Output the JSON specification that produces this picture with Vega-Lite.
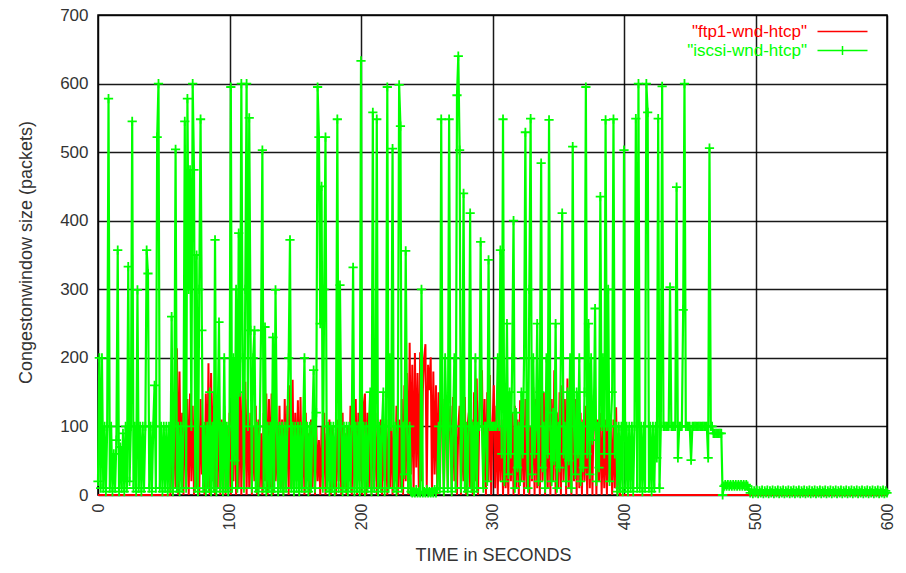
{
"$schema": "https://vega.github.io/schema/vega-lite/v6.json",
"width": 789, "height": 480,
"autosize": "none",
"padding": {"left": 98, "top": 15, "right": 19, "bottom": 78},
"background": "white",
"datasets": {
"ftp": [
{"t":0,"w":0},{"t":54,"w":0},{"t":55,"w":0},{"t":56,"w":120},{"t":57,"w":0},{"t":58,"w":150},{"t":59,"w":10},
{"t":60,"w":214},{"t":61,"w":0},{"t":62,"w":180},{"t":63,"w":20},{"t":64,"w":120},{"t":65,"w":0},{"t":66,"w":168},{"t":67,"w":10},{"t":68,"w":140},{"t":69,"w":0},
{"t":70,"w":148},{"t":71,"w":20},{"t":72,"w":130},{"t":73,"w":0},{"t":74,"w":148},{"t":75,"w":10},{"t":76,"w":120},{"t":77,"w":0},{"t":78,"w":140},{"t":79,"w":30},
{"t":80,"w":100},{"t":81,"w":0},{"t":82,"w":148},{"t":83,"w":10},{"t":84,"w":192},{"t":85,"w":0},{"t":86,"w":178},{"t":87,"w":20},{"t":88,"w":150},{"t":89,"w":0},
{"t":90,"w":120},{"t":91,"w":10},{"t":92,"w":140},{"t":93,"w":0},{"t":94,"w":110},{"t":95,"w":20},{"t":96,"w":130},{"t":97,"w":0},{"t":98,"w":100},{"t":99,"w":10},
{"t":100,"w":120},{"t":101,"w":0},{"t":102,"w":150},{"t":103,"w":20},{"t":104,"w":182},{"t":105,"w":0},{"t":106,"w":160},{"t":107,"w":10},{"t":108,"w":170},{"t":109,"w":0},
{"t":110,"w":150},{"t":111,"w":20},{"t":112,"w":165},{"t":113,"w":0},{"t":114,"w":140},{"t":115,"w":10},{"t":116,"w":120},{"t":117,"w":0},{"t":118,"w":100},{"t":119,"w":20},
{"t":120,"w":130},{"t":121,"w":0},{"t":122,"w":110},{"t":123,"w":10},{"t":124,"w":90},{"t":125,"w":0},{"t":126,"w":120},{"t":127,"w":20},{"t":128,"w":148},{"t":129,"w":0},
{"t":130,"w":140},{"t":131,"w":10},{"t":132,"w":148},{"t":133,"w":0},{"t":134,"w":120},{"t":135,"w":20},{"t":136,"w":100},{"t":137,"w":0},{"t":138,"w":130},{"t":139,"w":10},
{"t":140,"w":110},{"t":141,"w":0},{"t":142,"w":140},{"t":143,"w":20},{"t":144,"w":130},{"t":145,"w":0},{"t":146,"w":160},{"t":147,"w":10},{"t":148,"w":168},{"t":149,"w":0},
{"t":150,"w":120},{"t":151,"w":20},{"t":152,"w":138},{"t":153,"w":0},{"t":154,"w":143},{"t":155,"w":10},{"t":156,"w":100},{"t":157,"w":0},{"t":158,"w":120},{"t":159,"w":20},
{"t":160,"w":90},{"t":161,"w":0},{"t":162,"w":110},{"t":163,"w":10},{"t":164,"w":130},{"t":165,"w":0},{"t":166,"w":100},{"t":167,"w":20},{"t":168,"w":80},{"t":169,"w":0},
{"t":170,"w":100},{"t":171,"w":10},{"t":172,"w":120},{"t":173,"w":0},{"t":174,"w":90},{"t":175,"w":20},{"t":176,"w":110},{"t":177,"w":0},{"t":178,"w":100},{"t":179,"w":10},
{"t":180,"w":80},{"t":181,"w":0},{"t":182,"w":110},{"t":183,"w":20},{"t":184,"w":100},{"t":185,"w":0},{"t":186,"w":120},{"t":187,"w":10},{"t":188,"w":90},{"t":189,"w":0},
{"t":190,"w":100},{"t":191,"w":20},{"t":192,"w":130},{"t":193,"w":0},{"t":194,"w":110},{"t":195,"w":10},{"t":196,"w":140},{"t":197,"w":0},{"t":198,"w":120},{"t":199,"w":20},
{"t":200,"w":148},{"t":201,"w":0},{"t":202,"w":130},{"t":203,"w":148},{"t":204,"w":0},{"t":205,"w":120},{"t":206,"w":10},{"t":207,"w":110},{"t":208,"w":0},{"t":209,"w":138},
{"t":210,"w":20},{"t":211,"w":120},{"t":212,"w":0},{"t":213,"w":100},{"t":214,"w":10},{"t":215,"w":110},{"t":216,"w":0},{"t":217,"w":90},{"t":218,"w":20},{"t":219,"w":100},
{"t":220,"w":0},{"t":221,"w":110},{"t":222,"w":10},{"t":223,"w":120},{"t":224,"w":0},{"t":225,"w":100},{"t":226,"w":20},{"t":227,"w":130},{"t":228,"w":0},{"t":229,"w":110},
{"t":230,"w":10},{"t":231,"w":140},{"t":232,"w":0},{"t":233,"w":160},{"t":234,"w":20},{"t":235,"w":178},{"t":236,"w":0},{"t":237,"w":222},{"t":238,"w":30},{"t":239,"w":190},
{"t":240,"w":0},{"t":241,"w":207},{"t":242,"w":40},{"t":243,"w":178},{"t":244,"w":0},{"t":245,"w":208},{"t":246,"w":20},{"t":247,"w":150},{"t":248,"w":200},{"t":249,"w":220},
{"t":250,"w":10},{"t":251,"w":190},{"t":252,"w":153},{"t":253,"w":201},{"t":254,"w":0},{"t":255,"w":180},{"t":256,"w":30},{"t":257,"w":160},{"t":258,"w":0},{"t":259,"w":150},
{"t":260,"w":20},{"t":261,"w":120},{"t":262,"w":140},{"t":263,"w":0},{"t":264,"w":100},{"t":265,"w":143},{"t":266,"w":10},{"t":267,"w":110},{"t":268,"w":130},{"t":269,"w":0},
{"t":270,"w":143},{"t":271,"w":20},{"t":272,"w":120},{"t":273,"w":0},{"t":274,"w":100},{"t":275,"w":130},{"t":276,"w":0},{"t":277,"w":110},{"t":278,"w":20},{"t":279,"w":143},
{"t":280,"w":0},{"t":281,"w":100},{"t":282,"w":120},{"t":283,"w":10},{"t":284,"w":110},{"t":285,"w":0},{"t":286,"w":150},{"t":287,"w":20},{"t":288,"w":170},{"t":289,"w":0},
{"t":290,"w":120},{"t":291,"w":160},{"t":292,"w":182},{"t":293,"w":10},{"t":294,"w":140},{"t":295,"w":0},{"t":296,"w":150},{"t":297,"w":20},{"t":298,"w":175},{"t":299,"w":0},
{"t":300,"w":100},{"t":301,"w":160},{"t":302,"w":10},{"t":303,"w":130},{"t":304,"w":0},{"t":305,"w":114},{"t":306,"w":20},{"t":307,"w":110},{"t":308,"w":0},{"t":309,"w":114},
{"t":310,"w":10},{"t":311,"w":100},{"t":312,"w":0},{"t":313,"w":110},{"t":314,"w":20},{"t":315,"w":120},{"t":316,"w":0},{"t":317,"w":130},{"t":318,"w":10},{"t":319,"w":110},
{"t":320,"w":0},{"t":321,"w":138},{"t":322,"w":20},{"t":323,"w":120},{"t":324,"w":0},{"t":325,"w":140},{"t":326,"w":10},{"t":327,"w":150},{"t":328,"w":0},{"t":329,"w":100},
{"t":330,"w":20},{"t":331,"w":157},{"t":332,"w":0},{"t":333,"w":140},{"t":334,"w":10},{"t":335,"w":120},{"t":336,"w":0},{"t":337,"w":168},{"t":338,"w":20},{"t":339,"w":150},
{"t":340,"w":0},{"t":341,"w":130},{"t":342,"w":10},{"t":343,"w":160},{"t":344,"w":0},{"t":345,"w":140},{"t":346,"w":20},{"t":347,"w":182},{"t":348,"w":0},{"t":349,"w":120},
{"t":350,"w":10},{"t":351,"w":150},{"t":352,"w":0},{"t":353,"w":160},{"t":354,"w":20},{"t":355,"w":140},{"t":356,"w":0},{"t":357,"w":170},{"t":358,"w":10},{"t":359,"w":130},
{"t":360,"w":0},{"t":361,"w":182},{"t":362,"w":20},{"t":363,"w":140},{"t":364,"w":0},{"t":365,"w":150},{"t":366,"w":10},{"t":367,"w":120},{"t":368,"w":0},{"t":369,"w":110},
{"t":370,"w":20},{"t":371,"w":130},{"t":372,"w":0},{"t":373,"w":140},{"t":374,"w":10},{"t":375,"w":120},{"t":376,"w":0},{"t":377,"w":145},{"t":378,"w":157},{"t":379,"w":0},
{"t":380,"w":110},{"t":381,"w":20},{"t":382,"w":120},{"t":383,"w":0},{"t":384,"w":100},{"t":385,"w":10},{"t":386,"w":110},{"t":387,"w":0},{"t":388,"w":130},{"t":389,"w":20},
{"t":390,"w":100},{"t":391,"w":0},{"t":392,"w":110},{"t":393,"w":10},{"t":394,"w":128},{"t":395,"w":0},{"t":396,"w":90},{"t":397,"w":0},{"t":600,"w":0}
],
"iscsi": [
{"t":0,"w":20},{"t":1,"w":200},{"t":2,"w":10},{"t":3,"w":200},{"t":4,"w":10},{"t":5,"w":100},{"t":6,"w":5},{"t":7,"w":100},{"t":8,"w":578},{"t":9,"w":10},
{"t":10,"w":100},{"t":11,"w":5},{"t":12,"w":60},{"t":13,"w":10},{"t":14,"w":80},{"t":15,"w":357},{"t":16,"w":5},{"t":17,"w":70},{"t":18,"w":10},{"t":19,"w":90},
{"t":20,"w":5},{"t":21,"w":100},{"t":22,"w":10},{"t":23,"w":333},{"t":24,"w":20},{"t":25,"w":100},{"t":26,"w":545},{"t":27,"w":10},{"t":28,"w":100},{"t":29,"w":5},
{"t":30,"w":299},{"t":31,"w":10},{"t":32,"w":100},{"t":33,"w":5},{"t":34,"w":100},{"t":35,"w":10},{"t":36,"w":100},{"t":37,"w":357},{"t":38,"w":323},{"t":39,"w":10},
{"t":40,"w":100},{"t":41,"w":5},{"t":42,"w":100},{"t":43,"w":160},{"t":44,"w":10},{"t":45,"w":522},{"t":46,"w":600},{"t":47,"w":10},{"t":48,"w":100},{"t":49,"w":5},
{"t":50,"w":100},{"t":51,"w":10},{"t":52,"w":100},{"t":53,"w":5},{"t":54,"w":100},{"t":55,"w":10},{"t":56,"w":260},{"t":57,"w":5},{"t":58,"w":100},{"t":59,"w":504},
{"t":60,"w":10},{"t":61,"w":100},{"t":62,"w":5},{"t":63,"w":100},{"t":64,"w":10},{"t":65,"w":100},{"t":66,"w":545},{"t":67,"w":10},{"t":68,"w":578},{"t":69,"w":300},
{"t":70,"w":474},{"t":71,"w":100},{"t":72,"w":600},{"t":73,"w":474},{"t":74,"w":10},{"t":75,"w":350},{"t":76,"w":5},{"t":77,"w":300},{"t":78,"w":548},{"t":79,"w":240},
{"t":80,"w":10},{"t":81,"w":100},{"t":82,"w":5},{"t":83,"w":100},{"t":84,"w":10},{"t":85,"w":150},{"t":86,"w":5},{"t":87,"w":100},{"t":88,"w":10},{"t":89,"w":372},
{"t":90,"w":5},{"t":91,"w":100},{"t":92,"w":252},{"t":93,"w":10},{"t":94,"w":100},{"t":95,"w":5},{"t":96,"w":200},{"t":97,"w":10},{"t":98,"w":100},{"t":99,"w":5},
{"t":100,"w":100},{"t":101,"w":595},{"t":102,"w":10},{"t":103,"w":200},{"t":104,"w":50},{"t":105,"w":300},{"t":106,"w":10},{"t":107,"w":382},{"t":108,"w":150},{"t":109,"w":600},
{"t":110,"w":200},{"t":111,"w":10},{"t":112,"w":300},{"t":113,"w":600},{"t":114,"w":100},{"t":115,"w":550},{"t":116,"w":240},{"t":117,"w":10},{"t":118,"w":200},{"t":119,"w":240},
{"t":120,"w":10},{"t":121,"w":100},{"t":122,"w":5},{"t":123,"w":100},{"t":124,"w":240},{"t":125,"w":503},{"t":126,"w":10},{"t":127,"w":245},{"t":128,"w":5},{"t":129,"w":100},
{"t":130,"w":10},{"t":131,"w":100},{"t":132,"w":5},{"t":133,"w":230},{"t":134,"w":10},{"t":135,"w":299},{"t":136,"w":100},{"t":137,"w":5},{"t":138,"w":100},{"t":139,"w":10},
{"t":140,"w":100},{"t":141,"w":5},{"t":142,"w":100},{"t":143,"w":10},{"t":144,"w":100},{"t":145,"w":200},{"t":146,"w":372},{"t":147,"w":10},{"t":148,"w":100},{"t":149,"w":5},
{"t":150,"w":100},{"t":151,"w":10},{"t":152,"w":100},{"t":153,"w":5},{"t":154,"w":100},{"t":155,"w":10},{"t":156,"w":100},{"t":157,"w":200},{"t":158,"w":10},{"t":159,"w":100},
{"t":160,"w":5},{"t":161,"w":100},{"t":162,"w":10},{"t":163,"w":100},{"t":164,"w":182},{"t":165,"w":10},{"t":166,"w":120},{"t":167,"w":595},{"t":168,"w":522},{"t":169,"w":250},
{"t":170,"w":450},{"t":171,"w":10},{"t":172,"w":300},{"t":173,"w":522},{"t":174,"w":10},{"t":175,"w":100},{"t":176,"w":5},{"t":177,"w":100},{"t":178,"w":10},{"t":179,"w":100},
{"t":180,"w":5},{"t":181,"w":100},{"t":182,"w":548},{"t":183,"w":10},{"t":184,"w":306},{"t":185,"w":100},{"t":186,"w":5},{"t":187,"w":100},{"t":188,"w":10},{"t":189,"w":100},
{"t":190,"w":5},{"t":191,"w":100},{"t":192,"w":10},{"t":193,"w":100},{"t":194,"w":332},{"t":195,"w":5},{"t":196,"w":100},{"t":197,"w":10},{"t":198,"w":100},{"t":199,"w":5},
{"t":200,"w":633},{"t":201,"w":10},{"t":202,"w":100},{"t":203,"w":5},{"t":204,"w":100},{"t":205,"w":10},{"t":206,"w":100},{"t":207,"w":150},{"t":208,"w":5},{"t":209,"w":558},
{"t":210,"w":10},{"t":211,"w":100},{"t":212,"w":548},{"t":213,"w":5},{"t":214,"w":100},{"t":215,"w":10},{"t":216,"w":100},{"t":217,"w":150},{"t":218,"w":5},{"t":219,"w":100},
{"t":220,"w":595},{"t":221,"w":10},{"t":222,"w":200},{"t":223,"w":100},{"t":224,"w":505},{"t":225,"w":10},{"t":226,"w":100},{"t":227,"w":5},{"t":228,"w":100},{"t":229,"w":598},
{"t":230,"w":538},{"t":231,"w":10},{"t":232,"w":100},{"t":233,"w":30},{"t":234,"w":356},{"t":235,"w":100},{"t":236,"w":10},{"t":237,"w":100},{"t":238,"w":5},{"t":239,"w":3},
{"t":240,"w":5},{"t":241,"w":3},{"t":242,"w":8},{"t":243,"w":3},{"t":244,"w":5},{"t":245,"w":3},{"t":246,"w":300},{"t":247,"w":3},{"t":248,"w":5},{"t":249,"w":3},
{"t":250,"w":8},{"t":251,"w":3},{"t":252,"w":5},{"t":253,"w":3},{"t":254,"w":5},{"t":255,"w":3},{"t":256,"w":8},{"t":257,"w":3},{"t":258,"w":10},{"t":259,"w":100},
{"t":260,"w":10},{"t":261,"w":548},{"t":262,"w":100},{"t":263,"w":5},{"t":264,"w":200},{"t":265,"w":100},{"t":266,"w":10},{"t":267,"w":548},{"t":268,"w":100},{"t":269,"w":5},
{"t":270,"w":100},{"t":271,"w":200},{"t":272,"w":10},{"t":273,"w":583},{"t":274,"w":640},{"t":275,"w":503},{"t":276,"w":10},{"t":277,"w":100},{"t":278,"w":440},{"t":279,"w":10},
{"t":280,"w":100},{"t":281,"w":5},{"t":282,"w":100},{"t":283,"w":411},{"t":284,"w":10},{"t":285,"w":100},{"t":286,"w":5},{"t":287,"w":200},{"t":288,"w":10},{"t":289,"w":100},
{"t":290,"w":100},{"t":291,"w":369},{"t":292,"w":100},{"t":293,"w":10},{"t":294,"w":100},{"t":295,"w":100},{"t":296,"w":20},{"t":297,"w":343},{"t":298,"w":100},{"t":299,"w":100},
{"t":300,"w":100},{"t":301,"w":100},{"t":302,"w":100},{"t":303,"w":100},{"t":304,"w":200},{"t":305,"w":100},{"t":306,"w":357},{"t":307,"w":60},{"t":308,"w":548},{"t":309,"w":20},
{"t":310,"w":100},{"t":311,"w":250},{"t":312,"w":30},{"t":313,"w":150},{"t":314,"w":60},{"t":315,"w":200},{"t":316,"w":400},{"t":317,"w":10},{"t":318,"w":120},{"t":319,"w":40},
{"t":320,"w":100},{"t":321,"w":20},{"t":322,"w":150},{"t":323,"w":60},{"t":324,"w":200},{"t":325,"w":529},{"t":326,"w":100},{"t":327,"w":10},{"t":328,"w":300},{"t":329,"w":549},
{"t":330,"w":30},{"t":331,"w":200},{"t":332,"w":60},{"t":333,"w":100},{"t":334,"w":250},{"t":335,"w":20},{"t":336,"w":150},{"t":337,"w":484},{"t":338,"w":40},{"t":339,"w":100},
{"t":340,"w":10},{"t":341,"w":200},{"t":342,"w":60},{"t":343,"w":547},{"t":344,"w":100},{"t":345,"w":20},{"t":346,"w":120},{"t":347,"w":50},{"t":348,"w":250},{"t":349,"w":10},
{"t":350,"w":100},{"t":351,"w":40},{"t":352,"w":200},{"t":353,"w":411},{"t":354,"w":60},{"t":355,"w":100},{"t":356,"w":20},{"t":357,"w":150},{"t":358,"w":50},{"t":359,"w":200},
{"t":360,"w":10},{"t":361,"w":508},{"t":362,"w":100},{"t":363,"w":30},{"t":364,"w":150},{"t":365,"w":60},{"t":366,"w":200},{"t":367,"w":20},{"t":368,"w":100},{"t":369,"w":40},
{"t":370,"w":150},{"t":371,"w":595},{"t":372,"w":60},{"t":373,"w":250},{"t":374,"w":30},{"t":375,"w":200},{"t":376,"w":80},{"t":377,"w":100},{"t":378,"w":272},{"t":379,"w":20},
{"t":380,"w":100},{"t":381,"w":40},{"t":382,"w":435},{"t":383,"w":100},{"t":384,"w":200},{"t":385,"w":60},{"t":386,"w":547},{"t":387,"w":100},{"t":388,"w":300},{"t":389,"w":20},
{"t":390,"w":100},{"t":391,"w":150},{"t":392,"w":548},{"t":393,"w":60},{"t":394,"w":100},{"t":395,"w":5},{"t":396,"w":100},{"t":397,"w":10},{"t":398,"w":100},{"t":399,"w":5},
{"t":400,"w":503},{"t":401,"w":10},{"t":402,"w":100},{"t":403,"w":5},{"t":404,"w":100},{"t":405,"w":10},{"t":406,"w":100},{"t":407,"w":5},{"t":408,"w":100},{"t":409,"w":549},
{"t":410,"w":10},{"t":411,"w":600},{"t":412,"w":10},{"t":413,"w":100},{"t":414,"w":5},{"t":415,"w":100},{"t":416,"w":10},{"t":417,"w":600},{"t":418,"w":558},{"t":419,"w":10},
{"t":420,"w":100},{"t":421,"w":5},{"t":422,"w":100},{"t":423,"w":10},{"t":424,"w":100},{"t":425,"w":54},{"t":426,"w":549},{"t":427,"w":10},{"t":428,"w":100},{"t":429,"w":596},
{"t":430,"w":100},{"t":431,"w":100},{"t":432,"w":100},{"t":433,"w":100},{"t":434,"w":100},{"t":435,"w":303},{"t":436,"w":100},{"t":437,"w":100},{"t":438,"w":100},{"t":439,"w":100},
{"t":440,"w":449},{"t":441,"w":54},{"t":442,"w":100},{"t":443,"w":100},{"t":444,"w":100},{"t":445,"w":270},{"t":446,"w":600},{"t":447,"w":100},{"t":448,"w":100},{"t":449,"w":100},
{"t":450,"w":100},{"t":451,"w":51},{"t":452,"w":100},{"t":453,"w":100},{"t":454,"w":100},{"t":455,"w":100},{"t":456,"w":100},{"t":457,"w":100},{"t":458,"w":100},{"t":459,"w":100},
{"t":460,"w":100},{"t":461,"w":100},{"t":462,"w":100},{"t":463,"w":100},{"t":464,"w":54},{"t":465,"w":506},{"t":466,"w":100},{"t":467,"w":100},{"t":468,"w":90},{"t":469,"w":90},
{"t":470,"w":90},{"t":471,"w":90},{"t":472,"w":90},{"t":473,"w":90},{"t":474,"w":90},{"t":475,"w":0},
{"t":476,"w":13},{"t":477,"w":15},{"t":478,"w":13},{"t":479,"w":15},{"t":480,"w":13},{"t":481,"w":15},{"t":482,"w":13},{"t":483,"w":15},{"t":484,"w":13},{"t":485,"w":15},
{"t":486,"w":13},{"t":487,"w":15},{"t":488,"w":13},{"t":489,"w":15},{"t":490,"w":13},{"t":491,"w":15},{"t":492,"w":13},{"t":493,"w":15},{"t":494,"w":13},{"t":495,"w":8},
{"t":496,"w":3},{"t":497,"w":7},{"t":498,"w":2},{"t":499,"w":6},{"t":500,"w":3},{"t":501,"w":7},{"t":502,"w":2},{"t":503,"w":6},{"t":504,"w":3},{"t":505,"w":7},
{"t":506,"w":2},{"t":507,"w":6},{"t":508,"w":3},{"t":509,"w":7},{"t":510,"w":2},{"t":511,"w":6},{"t":512,"w":3},{"t":513,"w":7},{"t":514,"w":2},{"t":515,"w":6},
{"t":516,"w":3},{"t":517,"w":7},{"t":518,"w":2},{"t":519,"w":6},{"t":520,"w":3},{"t":521,"w":7},{"t":522,"w":2},{"t":523,"w":6},{"t":524,"w":3},{"t":525,"w":7},
{"t":526,"w":2},{"t":527,"w":6},{"t":528,"w":3},{"t":529,"w":7},{"t":530,"w":2},{"t":531,"w":6},{"t":532,"w":3},{"t":533,"w":7},{"t":534,"w":2},{"t":535,"w":6},
{"t":536,"w":3},{"t":537,"w":7},{"t":538,"w":2},{"t":539,"w":6},{"t":540,"w":3},{"t":541,"w":7},{"t":542,"w":2},{"t":543,"w":6},{"t":544,"w":3},{"t":545,"w":7},
{"t":546,"w":2},{"t":547,"w":6},{"t":548,"w":3},{"t":549,"w":7},{"t":550,"w":2},{"t":551,"w":6},{"t":552,"w":3},{"t":553,"w":7},{"t":554,"w":2},{"t":555,"w":6},
{"t":556,"w":3},{"t":557,"w":7},{"t":558,"w":2},{"t":559,"w":6},{"t":560,"w":3},{"t":561,"w":7},{"t":562,"w":2},{"t":563,"w":6},{"t":564,"w":3},{"t":565,"w":7},
{"t":566,"w":2},{"t":567,"w":6},{"t":568,"w":3},{"t":569,"w":7},{"t":570,"w":2},{"t":571,"w":6},{"t":572,"w":3},{"t":573,"w":7},{"t":574,"w":2},{"t":575,"w":6},
{"t":576,"w":3},{"t":577,"w":7},{"t":578,"w":2},{"t":579,"w":6},{"t":580,"w":3},{"t":581,"w":7},{"t":582,"w":2},{"t":583,"w":6},{"t":584,"w":3},{"t":585,"w":7},
{"t":586,"w":2},{"t":587,"w":6},{"t":588,"w":3},{"t":589,"w":7},{"t":590,"w":2},{"t":591,"w":6},{"t":592,"w":3},{"t":593,"w":7},{"t":594,"w":2},{"t":595,"w":6},
{"t":596,"w":3},{"t":597,"w":7},{"t":598,"w":2},{"t":599,"w":6},{"t":600,"w":3}
]
},
"encoding": {
"x": {"field": "t", "type": "quantitative", "scale": {"domain": [0, 600], "nice": false},
"axis": {"values": [0,100,200,300,400,500,600], "labelAngle": -90, "labelFontSize": 16, "labelPadding": 8, "labelFlush": false,
"title": "TIME in SECONDS", "titleFontSize": 18, "titleX": 395, "titleY": 60, "titleBaseline": "middle"}},
"y": {"field": "w", "type": "quantitative", "scale": {"domain": [0, 700], "nice": false},
"axis": {"values": [0,100,200,300,400,500,600,700], "labelFontSize": 17, "labelPadding": 10, "labelFlush": false,
"title": "Congestonwindow size (packets)", "titleFontSize": 18, "titleX": -72, "titleY": 237, "titleBaseline": "middle", "titleAngle": -90}}
},
"layer": [
{"data": {"name": "ftp"}, "mark": {"type": "line", "strokeWidth": 2},
"encoding": {"color": {"datum": "ftp", "type": "nominal",
"scale": {"domain": ["ftp", "iscsi"], "range": ["#ff0000", "#00ff00"]},
"legend": {"orient": "none", "legendX": 702, "legendY": 8, "title": null, "padding": 0,
"labelFontSize": 17, "symbolSize": 100, "symbolStrokeWidth": 1.5, "symbolType": "M-5,0H5",
"symbolOffset": 34, "labelOffset": -44, "labelAlign": "right", "rowPadding": 1,
"labelExpr": "datum.value === 'ftp' ? '\"ftp1-wnd-htcp\"' : '\"iscsi-wnd-htcp\"'",
"encode": {"labels": {"update": {"fill": {"signal": "datum.value === 'ftp' ? '#ff0000' : '#00ff00'"}}},
"symbols": {"update": {"shape": {"signal": "datum.value === 'ftp' ? 'M-5,0H5' : 'M-5,0H5M0,-0.9V0.9'"}, "fill": {"value": "transparent"}}}}}}}},
{"data": {"name": "iscsi"}, "mark": {"type": "line", "strokeWidth": 2.2},
"encoding": {"color": {"datum": "iscsi", "type": "nominal"}}},
{"data": {"name": "iscsi"}, "mark": {"type": "point", "shape": "M-1,0H1M0,-1V1", "filled": false, "size": 85, "strokeWidth": 1.8, "opacity": 1},
"encoding": {"color": {"datum": "iscsi", "type": "nominal"}}}
],
"config": {
"font": "Liberation Sans",
"view": {"stroke": "#000", "strokeWidth": 1.5},
"axis": {"grid": true, "gridColor": "#000", "gridWidth": 1.5, "gridOpacity": 0.9, "ticks": false, "domain": false,
"labelColor": "#333", "titleColor": "#333", "titleFontWeight": "normal", "labelFont": "Liberation Sans", "titleFont": "Liberation Sans"},
"legend": {"labelFont": "Liberation Sans"}
}
}
